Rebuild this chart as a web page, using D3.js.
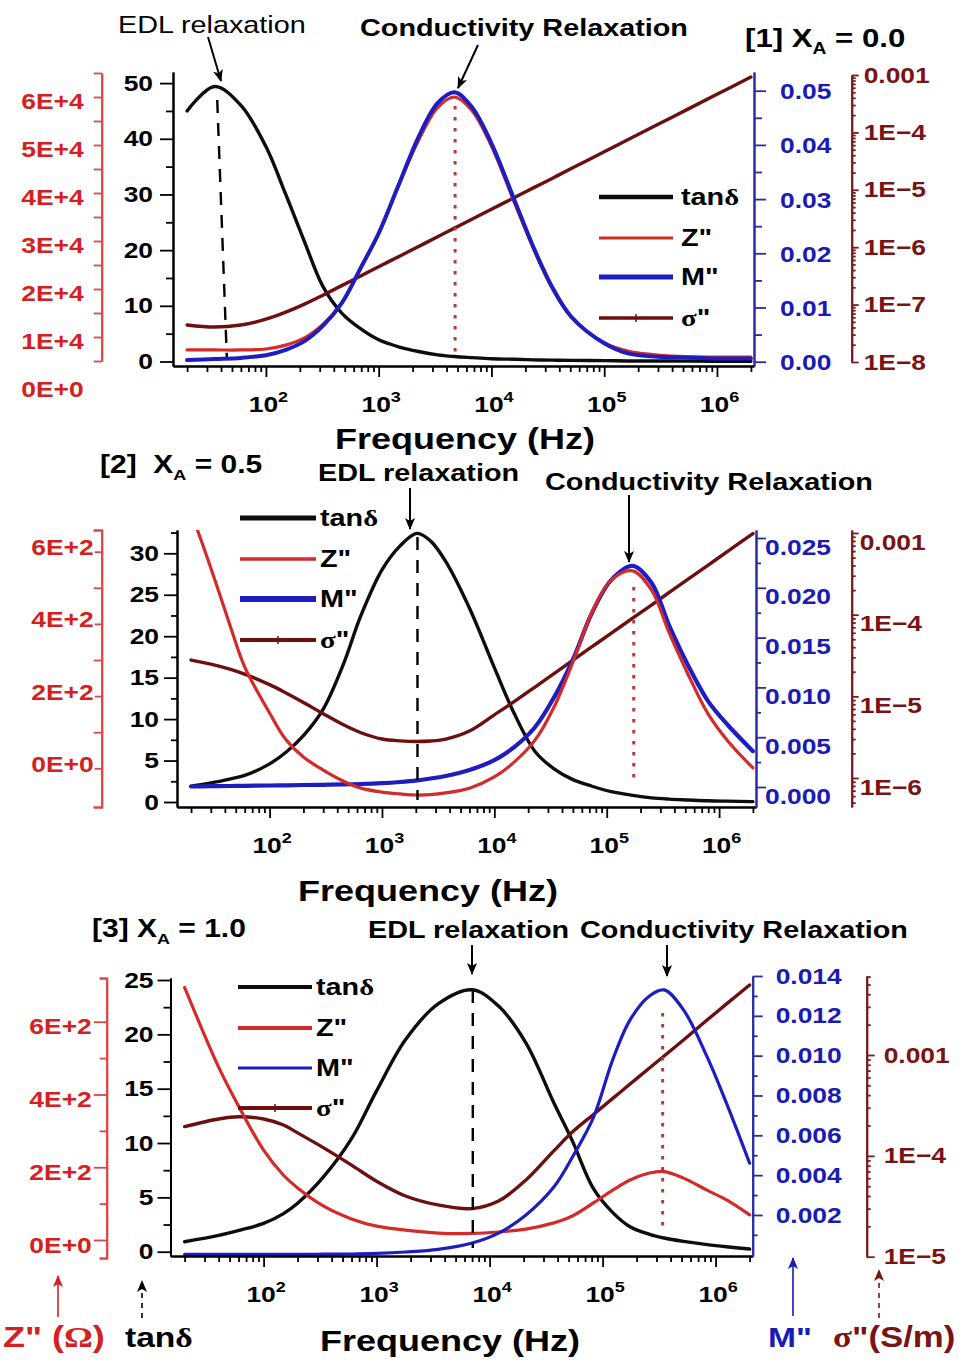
<!DOCTYPE html>
<html>
<head>
<meta charset="utf-8">
<script src="https://cdn.jsdelivr.net/npm/d3@7"></script>
<style>
  html, body { margin: 0; padding: 0; background: #ffffff; }
  svg { display: block; }
</style>
</head>
<body>
<script>
// ---------------- measured spectra ----------------
// [1] X_A = 0.0
const freq1 = [20, 35, 60, 100, 150, 220, 320, 470, 700, 1000, 1530, 2260, 3330, 4700, 6700, 10000, 16000, 23500, 34500, 51000, 100000, 165000, 400000, 1000000, 2000000];
const tan1 = [45.0, 49.4, 46.0, 38.6, 30.0, 21.5, 13.5, 8.7, 5.8, 3.9, 2.6, 1.8, 1.2, 0.9, 0.7, 0.5, 0.4, 0.3, 0.25, 0.2, 0.15, 0.1, 0.08, 0.05, 0.05];
const zpp1 = [7300, 7300, 7300, 7500, 8300, 9800, 12600, 17000, 24500, 31500, 42000, 51000, 57800, 60000, 57200, 49800, 38000, 28500, 20200, 14200, 8800, 7000, 6000, 5800, 5800];
const mpp1 = [0.0003, 0.0005, 0.0007, 0.0012, 0.0022, 0.0038, 0.0066, 0.0108, 0.0175, 0.0237, 0.033, 0.0415, 0.0477, 0.0497, 0.047, 0.0403, 0.0298, 0.0212, 0.0138, 0.0083, 0.0034, 0.0015, 0.0008, 0.0006, 0.0006];
const sig1 = [4.42e-8, 4.07e-8, 4.42e-8, 5.56e-8, 7.38e-8, 1.02e-7, 1.46e-7, 2.14e-7, 3.19e-7, 4.56e-7, 6.98e-7, 1.03e-6, 1.52e-6, 2.15e-6, 3.06e-6, 4.58e-6, 7.33e-6, 1.08e-5, 1.58e-5, 2.34e-5, 4.59e-5, 7.59e-5, 1.84e-4, 4.61e-4, 9.23e-4];

// [2] X_A = 0.5
const freq2 = [20, 30, 45, 60, 100, 140, 200, 300, 450, 650, 1000, 1450, 2050, 2700, 3700, 6000, 10000, 15000, 23000, 34000, 50000, 74000, 110000, 170000, 250000, 360000, 530000, 800000, 1200000, 2000000];
const tan2 = [1.9, 2.3, 2.8, 3.2, 4.6, 6.0, 8.0, 11.2, 16.5, 22.5, 28.0, 30.9, 32.4, 31.5, 29.0, 23.4, 16.2, 10.7, 6.1, 4.0, 2.7, 1.9, 1.25, 0.8, 0.5, 0.35, 0.25, 0.15, 0.1, 0.05];
const zpp2 = [710, 555, 391, 281, 153, 79, 31, -5, -35, -55, -66, -71, -74, -73, -68, -55, -24, 17, 78, 170, 294, 433, 522, 547, 494, 375, 260, 150, 75, 1];
const mpp2 = [0.00005, 0.00008, 0.0001, 0.00012, 0.00015, 0.00017, 0.0002, 0.00022, 0.00026, 0.0003, 0.00038, 0.0005, 0.00066, 0.00085, 0.0011, 0.0017, 0.0027, 0.0040, 0.0060, 0.0090, 0.0128, 0.0175, 0.0208, 0.0222, 0.0205, 0.0162, 0.0122, 0.0086, 0.0062, 0.0036];
const sig2 = [2.78e-5, 2.48e-5, 2.14e-5, 1.87e-5, 1.39e-5, 1.10e-5, 8.42e-6, 6.12e-6, 4.51e-6, 3.58e-6, 3.0e-6, 2.85e-6, 2.80e-6, 2.84e-6, 3.0e-6, 3.76e-6, 5.94e-6, 8.6e-6, 1.30e-5, 1.90e-5, 2.77e-5, 4.05e-5, 5.94e-5, 9.06e-5, 1.31e-4, 1.87e-4, 2.73e-4, 4.05e-4, 6.0e-4, 9.84e-4];

// [3] X_A = 1.0
const freq3 = [20, 40, 60, 100, 150, 200, 340, 600, 1000, 1800, 3500, 7000, 12000, 21000, 37000, 54000, 83000, 123000, 175000, 260000, 350000, 520000, 840000, 1250000, 2000000];
const tan3 = [0.92, 1.5, 1.95, 2.6, 3.5, 4.45, 6.9, 10.4, 14.8, 19.5, 22.8, 24.1, 22.6, 19.2, 13.7, 10.2, 5.8, 3.6, 2.3, 1.6, 1.26, 0.95, 0.65, 0.45, 0.25];
const zpp3 = [694, 475, 368, 247, 178, 143, 93, 58, 38, 27, 19, 18, 22, 30, 47, 66, 102, 137, 165, 184, 188, 170, 137, 110, 69];
const mpp3 = [0.00002, 0.00002, 0.00002, 0.00002, 0.00002, 0.00002, 0.00003, 0.00004, 0.00007, 0.00014, 0.00027, 0.00059, 0.00109, 0.0020, 0.0034, 0.0049, 0.0069, 0.0098, 0.0118, 0.013, 0.0133, 0.0123, 0.00995, 0.0076, 0.0046];
const sig3 = [1.95e-4, 2.32e-4, 2.44e-4, 2.32e-4, 2.02e-4, 1.69e-4, 1.2e-4, 8.1e-5, 5.6e-5, 4.0e-5, 3.26e-5, 3.0e-5, 3.56e-5, 5.77e-5, 1.12e-4, 1.72e-4, 2.57e-4, 3.71e-4, 5.16e-4, 7.43e-4, 9.77e-4, 1.41e-3, 2.22e-3, 3.21e-3, 4.94e-3];

// relaxation peak frequencies (Hz): EDL [top, bottom] of the guide, conductivity peak
const edlFreq = [[37, 45], [2070, 2070], [7100, 7100]];
const condFreq = [4760, 174000, 340000];

// ---------------- tick values and labels ----------------
const xExponents = [2, 3, 4, 5, 6];
const X_DOMAIN = [15, 2.13e6];

const tanTicks1 = [0, 10, 20, 30, 40, 50];
const zTicks1 = [0, 10000, 20000, 30000, 40000, 50000, 60000];
const zLabels1 = ["0E+0", "1E+4", "2E+4", "3E+4", "4E+4", "5E+4", "6E+4"];
const mTicks1 = [0, 0.01, 0.02, 0.03, 0.04, 0.05];
const mLabels1 = ["0.00", "0.01", "0.02", "0.03", "0.04", "0.05"];
const sTicks1 = [1e-8, 1e-7, 1e-6, 1e-5, 1e-4, 1e-3];
const sLabels1 = ["1E\u22128", "1E\u22127", "1E\u22126", "1E\u22125", "1E\u22124", "0.001"];

const tanTicks2 = [0, 5, 10, 15, 20, 25, 30];
const zTicks2 = [0, 200, 400, 600];
const zLabels2 = ["0E+0", "2E+2", "4E+2", "6E+2"];
const mTicks2 = [0, 0.005, 0.01, 0.015, 0.02, 0.025];
const mLabels2 = ["0.000", "0.005", "0.010", "0.015", "0.020", "0.025"];
const sTicks2 = [1e-6, 1e-5, 1e-4, 1e-3];
const sLabels2 = ["1E\u22126", "1E\u22125", "1E\u22124", "0.001"];

const tanTicks3 = [0, 5, 10, 15, 20, 25];
const zTicks3 = [0, 200, 400, 600];
const zLabels3 = ["0E+0", "2E+2", "4E+2", "6E+2"];
const mTicks3 = [0.002, 0.004, 0.006, 0.008, 0.010, 0.012, 0.014];
const mLabels3 = ["0.002", "0.004", "0.006", "0.008", "0.010", "0.012", "0.014"];
const sTicks3 = [1e-5, 1e-4, 1e-3];
const sLabels3 = ["1E\u22125", "1E\u22124", "0.001"];

// ---------------- styling ----------------
const FONT = '"Liberation Sans", Arial, Helvetica, sans-serif';
const SERIF = '"Liberation Serif", "Times New Roman", serif';
const SX = 1.2;                       // horizontal widening of all lettering
const COLORS = { tan: "#0d0d0d", zpp: "#d42a2a", mpp: "#1e1ec0", sig: "#6c0f0f" };
const RED_AX = "#dd4646", RED_TXT = "#d42020";
const BLUE_AX = "#2b2ba6", BLUE_TXT = "#1a1ab4";
const DARK_AX = "#7a1c1c", DARK_TXT = "#7a1414";
const KEYS = ["tan", "zpp", "mpp", "sig"];
const LEGEND_NAMES = [
  [{ t: "tan" }, { t: "\u03b4", serif: true }],
  [{ t: 'Z"' }],
  [{ t: 'M"' }],
  [{ t: "\u03c3", serif: true }, { t: '"' }]
];

const svg = d3.select("body").append("svg")
  .attr("width", 964).attr("height", 1363).attr("viewBox", "0 0 964 1363");
svg.append("rect").attr("width", 964).attr("height", 1363).attr("fill", "#fff");
const defs = svg.append("defs");

function marker(id, color) {
  defs.append("marker").attr("id", id)
    .attr("viewBox", "0 0 12 10").attr("refX", 11).attr("refY", 5)
    .attr("markerWidth", 12).attr("markerHeight", 10)
    .attr("markerUnits", "userSpaceOnUse").attr("orient", "auto")
    .append("path").attr("d", "M0,0 L12,5 L0,10 L3,5 Z").attr("fill", color);
}
marker("headK", "#000");
marker("headR", RED_TXT);
marker("headB", BLUE_TXT);
marker("headD", DARK_TXT);

// text with optional serif / sub / superscript runs, widened horizontally
function label(parent, x, y, parts, o) {
  const t = parent.append("text")
    .attr("transform", `translate(${x},${y}) scale(${SX},1)`)
    .attr("text-anchor", o.anchor || "start")
    .attr("font-family", FONT)
    .attr("font-size", o.size)
    .attr("font-weight", o.weight || "bold")
    .attr("fill", o.color || "#000");
  parts.forEach(p => {
    const s = t.append("tspan").text(p.t);
    if (p.serif) s.attr("font-family", SERIF);
    if (p.size) s.attr("font-size", p.size);
    if (p.dy) s.attr("dy", p.dy);
  });
  return t;
}

function buildY(kind, a, ext) {
  const make = kind === "log" ? d3.scaleLog : d3.scaleLinear;
  const base = make().domain([a[0], a[2]]).range([a[1], a[3]]);
  return make().domain([base.invert(ext[0]), base.invert(ext[1])]).range(ext);
}

function logMinor(s) {
  const d = s.domain(), lo = Math.min(d[0], d[1]), hi = Math.max(d[0], d[1]);
  const out = [];
  for (let e = Math.floor(Math.log10(lo)); e <= Math.ceil(Math.log10(hi)); e++)
    for (let k = 2; k <= 9; k++) {
      const v = k * Math.pow(10, e);
      if (v > lo && v < hi) out.push(v);
    }
  return out;
}

function drawYAxis(g, s, c) {
  const gen = c.side === "left" ? d3.axisLeft : d3.axisRight;
  const ax = g.append("g").attr("transform", `translate(${c.x},0)`);
  const minor = c.minor === "log" ? logMinor(s) : (c.minor || []);
  ax.append("g").call(gen(s).tickValues(minor).tickSize(c.minLen).tickSizeOuter(c.outer || 0).tickFormat(""));
  const m = ax.append("g").call(gen(s).tickValues(c.ticks).tickSize(c.majLen)
    .tickSizeOuter(c.outer || 0).tickPadding(c.pad).tickFormat((d, i) => c.labels[i]));
  ax.selectAll(".domain").attr("stroke", c.line).attr("stroke-width", 2);
  ax.selectAll(".tick line").attr("stroke", c.line).attr("stroke-width", 1.8);
  m.selectAll(".tick text").each(function () {
    const t = d3.select(this);
    const x0 = +t.attr("x");
    t.attr("x", x0 / SX).attr("y", c.dy || 0).attr("transform", `scale(${SX},1)`);
  })
    .attr("fill", c.color).attr("font-size", 22).attr("font-weight", "bold").attr("font-family", FONT);
  (c.hide || []).forEach(v => m.selectAll(".tick").filter(d => d === v).select("line").remove());
}

function drawXAxis(g, x, y0) {
  const d = x.domain();
  const minor = [];
  for (let e = 1; e <= 6; e++)
    for (let k = 2; k <= 9; k++) {
      const v = k * Math.pow(10, e);
      if (v >= d[0] && v <= d[1]) minor.push(v);
    }
  const ax = g.append("g").attr("transform", `translate(0,${y0})`);
  ax.append("g").call(d3.axisBottom(x).tickValues(minor).tickSize(6).tickSizeOuter(0).tickFormat(""));
  const m = ax.append("g").call(d3.axisBottom(x).tickValues(xExponents.map(e => Math.pow(10, e)))
    .tickSize(11).tickSizeOuter(0).tickFormat(""));
  ax.selectAll(".domain").attr("stroke", "#000").attr("stroke-width", 2);
  ax.selectAll(".tick line").attr("stroke", "#000").attr("stroke-width", 1.8);
  m.selectAll(".tick").each(function (v, i) {
    label(d3.select(this), 2, 46, [{ t: "10" }, { t: String(xExponents[i]), size: 15, dy: -10 }],
      { anchor: "middle", size: 22 });
  });
}

// ---------------- panel layout ----------------
const panels = [
  {
    id: 1, freq: freq1, series: { tan: tan1, zpp: zpp1, mpp: mpp1, sig: sig1 },
    left: 173, right: 754, top: 72, bottom: 366,
    order: ["tan", "sig", "zpp", "mpp"],
    widths: { tan: 3.4, zpp: 3.2, mpp: 4, sig: 3.4 },
    axes: {
      tan: { kind: "lin", a: [0, 361.5, 50, 83.1], ext: [366, 72], side: "left", x: 173, ticks: tanTicks1, labels: tanTicks1.map(String),
             minor: [5, 15, 25, 35, 45], majLen: 13, minLen: 7, pad: 7, color: "#000", line: "#000" },
      zpp: { kind: "lin", a: [0, 385, 60000, 97], ext: [361, 73], side: "left", x: 101.7, ticks: zTicks1, labels: zLabels1,
             minor: [5000, 15000, 25000, 35000, 45000, 55000, 65000], majLen: 8, minLen: 8, pad: 10, dy: 4, hide: [0], color: RED_TXT, line: RED_AX },
      mpp: { kind: "lin", a: [0, 361.7, 0.05, 90.7], ext: [366, 72], side: "right", x: 754, ticks: mTicks1, labels: mLabels1,
             minor: [0.005, 0.015, 0.025, 0.035, 0.045], majLen: 12, minLen: 8, pad: 14, dy: 1, color: BLUE_TXT, line: BLUE_AX },
      sig: { kind: "log", a: [1e-8, 362, 1e-3, 75], ext: [362, 75], side: "right", x: 851.7, ticks: sTicks1, labels: sLabels1,
             minor: "log", majLen: 7, minLen: 4, pad: 5, color: DARK_TXT, line: DARK_AX }
    },
    legend: { x0: 599, x1: 673, tx: 681, rows: [197, 238, 277, 318], widths: [4.5, 3, 5, 3.5] },
    edl: { f: edlFreq[0], y: [100, 357] },
    cond: { f: condFreq[0], y: [106, 353] },
    arrows: [[208, 37, 221, 81], [478, 45, 458, 88]],
    xTitle: [465, 449],
    texts: [
      { x: 118, y: 33, parts: [{ t: "EDL relaxation" }], size: 24, weight: "normal" },
      { x: 360, y: 36, parts: [{ t: "Conductivity Relaxation" }], size: 24 },
      { x: 745, y: 47, parts: [{ t: "[1] X" }, { t: "A", size: 16, dy: 7 }, { t: " = 0.0", dy: -7 }], size: 26 }
    ]
  },
  {
    id: 2, freq: freq2, series: { tan: tan2, zpp: zpp2, mpp: mpp2, sig: sig2 },
    left: 177, right: 756, top: 530, bottom: 807,
    order: ["tan", "sig", "mpp", "zpp"],
    widths: { tan: 3.4, zpp: 3.2, mpp: 4.2, sig: 3.4 },
    axes: {
      tan: { kind: "lin", a: [0, 802, 30, 553.3], ext: [807, 530], side: "left", x: 177, ticks: tanTicks2, labels: tanTicks2.map(String),
             minor: [2.5, 7.5, 12.5, 17.5, 22.5, 27.5, 32.5], majLen: 13, minLen: 6, pad: 5, color: "#000", line: "#000" },
      zpp: { kind: "lin", a: [0, 768.3, 600, 551.7], ext: [807, 530], side: "left", x: 101.7, ticks: zTicks2, labels: zLabels2,
             minor: [100, 300, 500], outer: 8, majLen: 7, minLen: 8, pad: 1, dy: -4, color: RED_TXT, line: RED_AX },
      mpp: { kind: "lin", a: [0, 787, 0.025, 538], ext: [807, 530], side: "right", x: 756, ticks: mTicks2, labels: mLabels2,
             minor: [0.0025, 0.0075, 0.0125, 0.0175, 0.0225], majLen: 10, minLen: 5, pad: -1, dy: 9, color: BLUE_TXT, line: BLUE_AX },
      sig: { kind: "log", a: [1e-6, 778, 1e-3, 533], ext: [807, 530], side: "right", x: 851.7, ticks: sTicks2, labels: sLabels2,
             minor: "log", majLen: 7, minLen: 4, pad: 1, dy: 9, color: DARK_TXT, line: DARK_AX }
    },
    legend: { x0: 240, x1: 316, tx: 320, rows: [518, 559, 599, 640], widths: [5, 3.3, 6, 4] },
    edl: { f: edlFreq[1], y: [537, 800] },
    cond: { f: condFreq[1], y: [587, 778] },
    arrows: [[410, 488, 410, 529], [629, 495, 629, 562]],
    xTitle: [428, 901],
    texts: [
      { x: 100, y: 473, parts: [{ t: "[2]\u00a0 X" }, { t: "A", size: 15, dy: 7 }, { t: " = 0.5", dy: -7 }], size: 25 },
      { x: 318, y: 481, parts: [{ t: "EDL relaxation" }], size: 24 },
      { x: 545, y: 490, parts: [{ t: "Conductivity Relaxation" }], size: 24 }
    ]
  },
  {
    id: 3, freq: freq3, series: { tan: tan3, zpp: zpp3, mpp: mpp3, sig: sig3 },
    left: 170.5, right: 752.7, top: 978, bottom: 1256,
    order: ["tan", "sig", "zpp", "mpp"],
    widths: { tan: 3.4, zpp: 3.2, mpp: 3.2, sig: 3.4 },
    axes: {
      tan: { kind: "lin", a: [0, 1251.7, 25, 980], ext: [1256, 978], side: "left", x: 170.5, ticks: tanTicks3, labels: tanTicks3.map(String),
             minor: [2.5, 7.5, 12.5, 17.5, 22.5], majLen: 13, minLen: 7, pad: 4, color: "#000", line: "#000" },
      zpp: { kind: "lin", a: [0, 1240, 600, 1021.7], ext: [1258, 978], side: "left", x: 106.7, ticks: zTicks3, labels: zLabels3,
             minor: [100, 300, 500], outer: 7, majLen: 13, minLen: 7, pad: 2, dy: 5, color: RED_TXT, line: RED_AX },
      mpp: { kind: "lin", a: [0, 1254.8, 0.014, 976], ext: [1256, 976], side: "right", x: 752.7, ticks: mTicks3, labels: mLabels3,
             minor: [0.001, 0.003, 0.005, 0.007, 0.009, 0.011, 0.013], majLen: 10, minLen: 5, pad: 13, color: BLUE_TXT, line: BLUE_AX },
      sig: { kind: "log", a: [1e-5, 1256.7, 1e-3, 1055], ext: [1256.7, 976], side: "right", x: 866.7, ticks: sTicks3, labels: sLabels3,
             minor: "log", majLen: 8, minLen: 4, pad: 9, color: DARK_TXT, line: DARK_AX }
    },
    legend: { x0: 238, x1: 312, tx: 316, rows: [987, 1028, 1068, 1108], widths: [4, 4, 3, 4] },
    edl: { f: edlFreq[2], y: [990, 1248] },
    cond: { f: condFreq[2], y: [1013, 1228] },
    arrows: [[472, 945, 472, 974], [667, 945, 667, 976]],
    xTitle: [450, 1351],
    texts: [
      { x: 92, y: 937, parts: [{ t: "[3] X" }, { t: "A", size: 15, dy: 7 }, { t: " = 1.0", dy: -7 }], size: 25 },
      { x: 368, y: 938, parts: [{ t: "EDL relaxation" }], size: 24 },
      { x: 580, y: 938, parts: [{ t: "Conductivity Relaxation" }], size: 24 }
    ]
  }
];

// ---------------- drawing ----------------
function drawPanel(p) {
  const g = svg.append("g");
  const x = d3.scaleLog().domain(X_DOMAIN).range([p.left, p.right]);
  const ys = {};
  KEYS.forEach(k => { ys[k] = buildY(p.axes[k].kind, p.axes[k].a, p.axes[k].ext); });

  const cid = "plotclip" + p.id;
  defs.append("clipPath").attr("id", cid).append("rect")
    .attr("x", p.left).attr("y", p.top).attr("width", p.right - p.left).attr("height", p.bottom - p.top);
  const plot = g.append("g").attr("clip-path", `url(#${cid})`);

  p.order.forEach(k => {
    const gen = d3.line().x((d, i) => x(p.freq[i])).y(d => ys[k](d)).curve(d3.curveCatmullRom.alpha(0.5));
    plot.append("path").attr("d", gen(p.series[k]))
      .attr("fill", "none").attr("stroke", COLORS[k]).attr("stroke-width", p.widths[k])
      .attr("stroke-linejoin", "round").attr("stroke-linecap", "round");
  });

  // peak guides
  g.append("line")
    .attr("x1", x(p.edl.f[0])).attr("x2", x(p.edl.f[1])).attr("y1", p.edl.y[0]).attr("y2", p.edl.y[1])
    .attr("stroke", "#000").attr("stroke-width", 2.4).attr("stroke-dasharray", "13,10");
  g.append("line")
    .attr("x1", x(p.cond.f)).attr("x2", x(p.cond.f)).attr("y1", p.cond.y[0]).attr("y2", p.cond.y[1])
    .attr("stroke", "#b23b3b").attr("stroke-width", 3).attr("stroke-dasharray", "3.5,7.5");

  // axes
  drawXAxis(g, x, p.bottom);
  KEYS.forEach(k => drawYAxis(g, ys[k], p.axes[k]));

  // legend
  const L = p.legend;
  KEYS.forEach((k, i) => {
    const y = L.rows[i];
    g.append("line").attr("x1", L.x0).attr("x2", L.x1).attr("y1", y).attr("y2", y)
      .attr("stroke", COLORS[k]).attr("stroke-width", L.widths[i]);
    if (k === "sig") {
      const xm = (L.x0 + L.x1) / 2;
      g.append("line").attr("x1", xm).attr("x2", xm).attr("y1", y - 4).attr("y2", y + 4)
        .attr("stroke", COLORS.sig).attr("stroke-width", 1.5);
    }
    label(g, L.tx, y + 8, LEGEND_NAMES[i], { size: 24 });
  });

  // annotation arrows and texts
  p.arrows.forEach(a => {
    g.append("line").attr("x1", a[0]).attr("y1", a[1]).attr("x2", a[2]).attr("y2", a[3])
      .attr("stroke", "#000").attr("stroke-width", 2).attr("marker-end", "url(#headK)");
  });
  p.texts.forEach(t => label(g, t.x, t.y, t.parts, { size: t.size, weight: t.weight || "bold" }));
  label(g, p.xTitle[0], p.xTitle[1], [{ t: "Frequency (Hz)" }], { size: 30, anchor: "middle" });
}

panels.forEach(drawPanel);

// shared axis-quantity key along the bottom
const foot = svg.append("g");
[
  { x: 58, y0: 1317, y1: 1276, color: RED_TXT, head: "headR", dash: null },
  { x: 142, y0: 1318, y1: 1281, color: "#000", head: "headK", dash: "5,5" },
  { x: 793, y0: 1316, y1: 1258, color: BLUE_TXT, head: "headB", dash: null },
  { x: 879, y0: 1318, y1: 1270, color: DARK_TXT, head: "headD", dash: "5,5" }
].forEach(a => {
  foot.append("line").attr("x1", a.x).attr("x2", a.x).attr("y1", a.y0).attr("y2", a.y1)
    .attr("stroke", a.color).attr("stroke-width", 1.6)
    .attr("stroke-dasharray", a.dash).attr("marker-end", `url(#${a.head})`);
});
label(foot, 3, 1347, [{ t: 'Z"\u00a0(' }, { t: "\u03a9", serif: true }, { t: ")" }], { size: 30, color: RED_TXT });
label(foot, 125, 1347, [{ t: "tan" }, { t: "\u03b4", serif: true }], { size: 28 });
label(foot, 768, 1347, [{ t: 'M"' }], { size: 28, color: BLUE_TXT });
label(foot, 833, 1347, [{ t: "\u03c3", serif: true }, { t: '"(S/m)' }], { size: 29, color: DARK_TXT });
</script>
</body>
</html>
